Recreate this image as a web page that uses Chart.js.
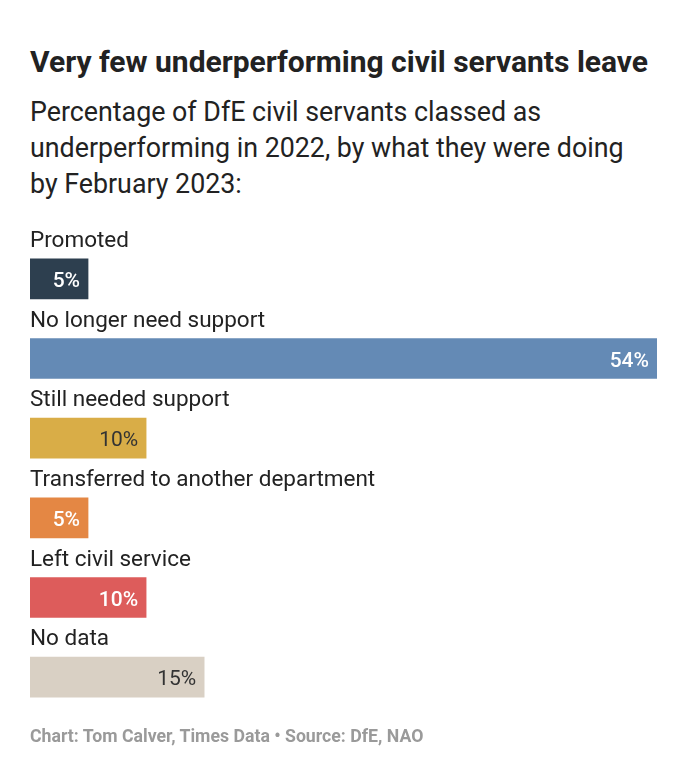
<!DOCTYPE html>
<html>
<head>
<meta charset="utf-8">
<script src="https://cdn.jsdelivr.net/npm/chart.js@4"></script>
<style>
  html, body { margin: 0; padding: 0; background: #fff; }
  body { width: 684px; height: 766px; position: relative; font-family: Roboto, "Noto Sans", sans-serif; overflow: hidden; }
  #title { position: absolute; left: 30px; top: 44px; font-size: 30px; line-height: 36px; font-weight: 700; color: #222; white-space: nowrap; }
  #subtitle { position: absolute; left: 30px; top: 94px; width: 650px; font-size: 26.8px; line-height: 36px; color: #222; white-space: nowrap; }
  #footer { position: absolute; left: 30px; top: 726px; font-size: 17.7px; line-height: 20px; font-weight: 700; color: #9a9a9a; white-space: nowrap; }
  #wrap { position: absolute; left: 0; top: 200px; width: 684px; height: 540px; }
</style>
</head>
<body>
<div id="title">Very few underperforming civil servants leave</div>
<div id="subtitle">Percentage of DfE civil servants classed as<br>underperforming in 2022, by what they were doing<br>by February 2023:</div>
<div id="wrap"><canvas id="chart"></canvas></div>
<div id="footer">Chart: Tom Calver, Times Data • Source: DfE, NAO</div>
<script>
const categories = ['Promoted', 'No longer need support', 'Still needed support', 'Transferred to another department', 'Left civil service', 'No data'];
const values = [5, 54, 10, 5, 10, 15];
const barColors = ['#2d3f4f', '#648ab5', '#d9ad47', '#e48744', '#dd5c5b', '#d9d0c4'];
const labelColors = ['#fff', '#fff', '#333', '#fff', '#fff', '#333'];

// category name above each bar, value at the right end inside the bar
const barText = {
    id: 'barText',
    afterDatasetsDraw(chart) {
        const ctx = chart.ctx;
        const meta = chart.getDatasetMeta(0);
        ctx.save();
        meta.data.forEach((bar, i) => {
            const top = bar.y - bar.height / 2;
            ctx.font = '22.5px Roboto, sans-serif';
            ctx.fillStyle = '#222';
            ctx.textAlign = 'left';
            ctx.textBaseline = 'alphabetic';
            ctx.fillText(categories[i], chart.chartArea.left, top - 12);

            // white labels read a touch heavier than the dark ones
            const weight = labelColors[i] === '#fff' ? '500' : '400';
            ctx.font = weight + ' 21px Roboto, sans-serif';
            ctx.fillStyle = labelColors[i];
            ctx.textAlign = 'right';
            ctx.fillText(values[i] + '%', bar.x - 8, bar.y + 8);
        });
        ctx.restore();
    }
};

new Chart(document.getElementById('chart').getContext('2d'), {
    type: 'bar',
    data: {
        labels: categories,
        datasets: [{
            data: values,
            backgroundColor: barColors,
            borderWidth: 0,
            barThickness: 40
        }]
    },
    options: {
        indexAxis: 'y',
        responsive: true,
        maintainAspectRatio: false,
        animation: false,
        layout: { padding: { left: 30, right: 27, top: 39, bottom: 23 } },
        scales: {
            x: { display: false, min: 0, max: 54 },
            y: { display: false }
        },
        plugins: { legend: { display: false }, tooltip: { enabled: false } }
    },
    plugins: [barText]
});
</script>
</body>
</html>
